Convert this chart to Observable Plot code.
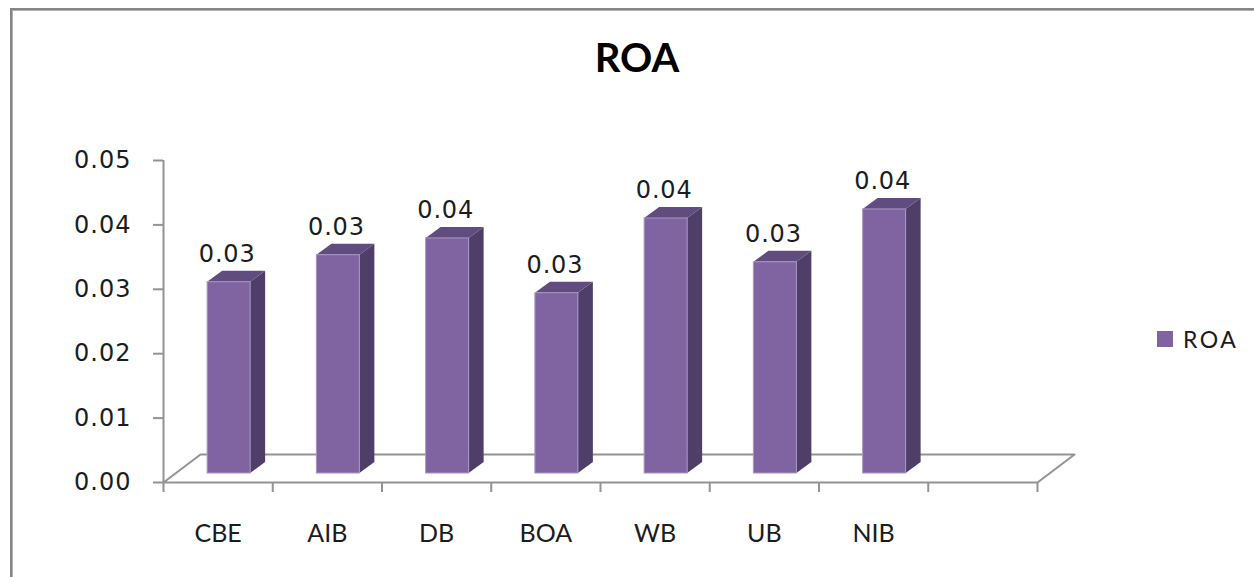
<!DOCTYPE html>
<html>
<head>
<meta charset="utf-8">
<script src="https://cdn.jsdelivr.net/npm/d3@7"></script>
<script src="https://cdn.jsdelivr.net/npm/@observablehq/plot@0.6"></script>
<style>
  html, body { margin: 0; padding: 0; background: #fff; }
  #page { position: relative; width: 1254px; height: 577px; overflow: hidden; background: #fff; }
  #frame { position: absolute; left: 10px; top: 8px; width: 1400px; height: 700px;
           border-left: 2px solid #858585; border-top: 2px solid #858585;
           box-shadow: inset 1px 1px 0 #b0b0b0; }
  #title { position: absolute; left: 10px; top: 37px; width: 1254px; text-align: center;
           font: bold 40px/40px Lato, "Open Sans", sans-serif; color: #000; }
  #chart { position: absolute; left: 0; top: 100px; }
  #chart svg { background: transparent !important; overflow: visible; }
  #chart svg g[aria-label="y-axis tick label"] text { letter-spacing: 1px; }
  #chart svg g[aria-label="text"] text { letter-spacing: 0.8px; }
  #legend { position: absolute; left: 1157px; top: 327px; display: flex; align-items: center;
            font: 23px/24px Lato, sans-serif; color: #1a1a1a; letter-spacing: 2.5px; }
  #legend .sw { width: 16px; height: 16px; background: #8064A2; margin-right: 10px; }
</style>
</head>
<body>
<div id="page">
  <div id="frame"></div>
  <div id="title">ROA</div>
  <div id="chart"></div>
  <div id="legend"><span class="sw"></span><span id="legend-label"></span></div>
</div>
<script>
// Return on assets by bank
const banks = ["CBE", "AIB", "DB", "BOA", "WB", "UB", "NIB"];
const roa = [0.0297, 0.0339, 0.0365, 0.0280, 0.0396, 0.0328, 0.0410];
const yTicks = [0, 0.01, 0.02, 0.03, 0.04, 0.05];
const seriesName = "ROA";

// Layout of the plotting area
const W = 1254, H = 477;
const mL = 163, mR = 217, mT = 60, mB = 95;
const slots = banks.length + 1;            // one empty slot to the right
const yMax = 0.05;
const pxX = (W - mL - mR) / slots;         // pixels per category slot
const pxY = (H - mT - mB) / yMax;          // pixels per unit of ROA
const ux = (px) => px / pxX;
const uy = (px) => px / pxY;

// Pseudo-3D geometry (pixels)
const floorDepth = {x: 37, y: 28};
const barShift = {x: 11, y: 9};
const barDepth = {x: 15, y: 11};
const barWidth = 43;

const colors = {front: "#8064A2", side: "#4f3e68", top: "#614c80", edge: "#a897c4", axis: "#939393", text: "#1c1c1c"};

const rows = banks.map((bank, i) => {
  const x1 = i + 0.5 + ux(barShift.x - barWidth / 2);
  const x2 = x1 + ux(barWidth);
  const y1 = uy(barShift.y);
  const y2 = roa[i] + y1;
  return {bank, value: roa[i], x1, x2, y1, y2};
});

const dx = ux(barDepth.x), dy = uy(barDepth.y);

const sides = rows.flatMap(d => [
  {bank: d.bank, x: d.x2, lo: d.y1, hi: d.y2},
  {bank: d.bank, x: d.x2 + dx, lo: d.y1 + dy, hi: d.y2 + dy}
]);
const tops = rows.flatMap(d => [
  {bank: d.bank, x: d.x1, lo: d.y2, hi: d.y2},
  {bank: d.bank, x: d.x1 + dx, lo: d.y2, hi: d.y2 + dy},
  {bank: d.bank, x: d.x2, lo: d.y2, hi: d.y2 + dy},
  {bank: d.bank, x: d.x2 + dx, lo: d.y2 + dy, hi: d.y2 + dy}
]);

const fdx = ux(floorDepth.x), fdy = uy(floorDepth.y);
const floor = [
  {x: 0, y: 0}, {x: slots, y: 0}, {x: slots + fdx, y: fdy}, {x: fdx, y: fdy}, {x: 0, y: 0}
];

const chart = Plot.plot({
  width: W,
  height: H,
  marginLeft: mL,
  marginRight: mR,
  marginTop: mT,
  marginBottom: mB,
  style: {background: "transparent"},
  x: {type: "linear", domain: [0, slots], axis: null},
  y: {type: "linear", domain: [0, yMax], axis: null},
  marks: [
    Plot.line(floor, {x: "x", y: "y", stroke: colors.axis, strokeWidth: 2}),
    Plot.ruleX([0], {y1: 0, y2: yMax, stroke: colors.axis, strokeWidth: 2}),
    Plot.axisY({
      ticks: yTicks, tickSize: 10, tickPadding: 22,
      tickFormat: d => d.toFixed(2),
      stroke: colors.axis, fill: colors.text, strokeWidth: 2,
      fontSize: 24, fontFamily: "DejaVu Sans"
    }),
    Plot.axisX({
      ticks: d3.range(slots + 1), tickSize: 10, tickFormat: () => "",
      stroke: colors.axis, strokeWidth: 2
    }),
    Plot.axisX({
      ticks: banks.map((_, i) => i + 0.5), tickSize: 0, tickPadding: 42,
      tickFormat: d => banks[Math.floor(d)],
      fill: colors.text, fontSize: 25, fontFamily: "Lato"
    }),
    Plot.area(sides, {x1: "x", y1: "lo", y2: "hi", z: "bank", fill: colors.side, curve: "linear"}),
    Plot.area(tops, {x1: "x", y1: "lo", y2: "hi", z: "bank", fill: colors.top, curve: "linear"}),
    Plot.rect(rows, {x1: "x1", x2: "x2", y1: "y1", y2: "y2", fill: colors.front, stroke: colors.edge, strokeWidth: 1}),
    Plot.text(rows, {
      x: d => (d.x1 + d.x2) / 2, y: "y2", text: d => d.value.toFixed(2),
      dx: -2, dy: -20, lineAnchor: "bottom",
      fill: colors.text, fontSize: 24, fontFamily: "DejaVu Sans"
    })
  ]
});

document.getElementById("chart").appendChild(chart);
document.getElementById("legend-label").textContent = seriesName;
</script>
</body>
</html>
